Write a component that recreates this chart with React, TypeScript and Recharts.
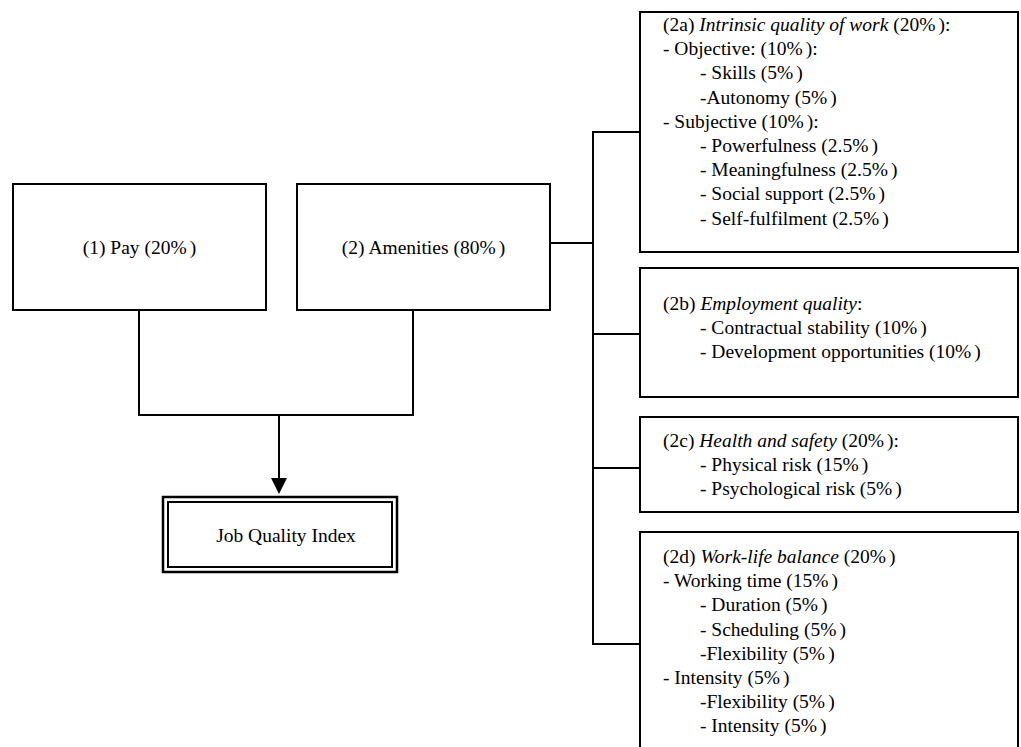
import { ComposedChart, ReferenceArea, ReferenceLine, Scatter, XAxis, YAxis } from 'recharts'

// labels and text of the diagram
const mainLabels = ['(1) Pay (20%)', '(2) Amenities (80%)']
const indexLabel = 'Job Quality Index'
// *...* = italic, leading \t = indented sub-item
const amenityGroups: string[][] = [
  [
    '(2a) *Intrinsic quality of work* (20%):',
    '- Objective: (10%):',
    '\t- Skills (5%)',
    '\t-Autonomy (5%)',
    '- Subjective (10%):',
    '\t- Powerfulness (2.5%)',
    '\t- Meaningfulness (2.5%)',
    '\t- Social support (2.5%)',
    '\t- Self-fulfilment (2.5%)',
  ],
  ['(2b) *Employment quality*:', '\t- Contractual stability (10%)', '\t- Development opportunities (10%)'],
  ['(2c) *Health and safety* (20%):', '\t- Physical risk (15%)', '\t- Psychological risk (5%)'],
  [
    '(2d) *Work-life balance* (20%)',
    '- Working time (15%)',
    '\t- Duration (5%)',
    '\t- Scheduling (5%)',
    '\t-Flexibility (5%)',
    '- Intensity (5%)',
    '\t-Flexibility (5%)',
    '\t- Intensity (5%)',
  ],
]

// layout, in the chart's own units (1 unit = 1px)
const W = 1021
const H = 747
const mainBoxes = [
  { x1: 13, x2: 266, y1: 184, y2: 310, stem: 139 },
  { x1: 297, x2: 550, y1: 184, y2: 310, stem: 413 },
]
const joinY = 415
const arrowX = 279
const indexBox = { x1: 163, x2: 397, y1: 497, y2: 572, gap: 5 }
const spineX = 593
const groupX1 = 640
const groupX2 = 1018
const textX = 663
const indentX = 700
const lineH = 24.2
const groupBoxes = [
  { y1: 12, y2: 252, first: 24, link: 132 },
  { y1: 268, y2: 397, first: 303, link: 334 },
  { y1: 417, y2: 512, first: 440, link: 468 },
  { y1: 532, y2: 770, first: 556, link: 644 },
]

const FONT = 'Liberation Serif'
const FS = 19.5

interface TextPoint {
  x: number
  y: number
  text: string
  anchor: 'start' | 'middle'
}

const textPoints: TextPoint[] = [
  ...mainLabels.map((t, i) => ({
    x: (mainBoxes[i].x1 + mainBoxes[i].x2) / 2,
    y: (mainBoxes[i].y1 + mainBoxes[i].y2) / 2,
    text: t,
    anchor: 'middle' as const,
  })),
  { x: (indexBox.x1 + indexBox.x2) / 2 + 6, y: (indexBox.y1 + indexBox.y2) / 2, text: indexLabel, anchor: 'middle' },
  ...amenityGroups.flatMap((lines, g) =>
    lines.map((t, i) => ({
      x: t.startsWith('\t') ? indentX : textX,
      y: groupBoxes[g].first + i * lineH,
      text: t.replace('\t', ''),
      anchor: 'start' as const,
    })),
  ),
]

// split into italic / upright runs, and leave the little gap the source has after each "%"
const TextShape = (props: any) => {
  const { cx, cy, payload } = props
  const runs = String(payload.text).split('*')
  const spans: { t: string; italic: boolean; dx: number }[] = []
  runs.forEach((r, i) => {
    r.split(/(?<=%)/).forEach((piece, k) => {
      if (piece) spans.push({ t: piece, italic: i % 2 === 1, dx: k > 0 ? 3 : 0 })
    })
  })
  return (
    <text
      x={cx}
      y={cy}
      textAnchor={payload.anchor}
      dominantBaseline="central"
      fontFamily={FONT}
      fontSize={FS}
      fill="#000"
    >
      {spans.map((s, i) => (
        <tspan key={i} dx={s.dx || undefined} fontStyle={s.italic ? 'italic' : 'normal'}>
          {s.t}
        </tspan>
      ))}
    </text>
  )
}

const ArrowHead = (props: any) => {
  const { cx, cy } = props
  return <polygon points={`${cx - 8},${cy - 8} ${cx + 8},${cy - 8} ${cx},${cy + 8}`} fill="#000" />
}

const line = { stroke: '#000', strokeWidth: 2, ifOverflow: 'visible' as const }
const box = { fill: '#fff', fillOpacity: 1, stroke: '#000', strokeWidth: 2, ifOverflow: 'hidden' as const }

export default function App() {
  return (
    <div style={{ position: 'absolute', left: 0, top: 0, background: '#fff' }}>
      <ComposedChart width={W} height={H} margin={{ top: 0, right: 0, bottom: 0, left: 0 }}>
        <XAxis type="number" dataKey="x" domain={[0, W]} hide allowDataOverflow />
        <YAxis type="number" dataKey="y" domain={[0, H]} reversed hide allowDataOverflow />

        {/* connectors */}
        {mainBoxes.map((b, i) => (
          <ReferenceLine key={`stem${i}`} segment={[{ x: b.stem, y: b.y2 }, { x: b.stem, y: joinY }]} {...line} />
        ))}
        <ReferenceLine segment={[{ x: mainBoxes[0].stem - 1, y: joinY }, { x: mainBoxes[1].stem + 1, y: joinY }]} {...line} />
        <ReferenceLine segment={[{ x: arrowX, y: joinY }, { x: arrowX, y: 484 }]} {...line} />
        <ReferenceLine segment={[{ x: mainBoxes[1].x2, y: 243 }, { x: spineX, y: 243 }]} {...line} />
        <ReferenceLine
          segment={[{ x: spineX, y: groupBoxes[0].link - 1 }, { x: spineX, y: groupBoxes[3].link + 1 }]}
          {...line}
        />
        {groupBoxes.map((g, i) => (
          <ReferenceLine key={`link${i}`} segment={[{ x: spineX, y: g.link }, { x: groupX1, y: g.link }]} {...line} />
        ))}

        {/* boxes */}
        {mainBoxes.map((b, i) => (
          <ReferenceArea key={`main${i}`} x1={b.x1} x2={b.x2} y1={b.y1} y2={b.y2} {...box} />
        ))}
        <ReferenceArea x1={indexBox.x1} x2={indexBox.x2} y1={indexBox.y1} y2={indexBox.y2} {...box} strokeWidth={2.5} />
        <ReferenceArea
          x1={indexBox.x1 + indexBox.gap}
          x2={indexBox.x2 - indexBox.gap}
          y1={indexBox.y1 + indexBox.gap}
          y2={indexBox.y2 - indexBox.gap}
          {...box}
        />
        {groupBoxes.map((g, i) => (
          <ReferenceArea key={`grp${i}`} x1={groupX1} x2={groupX2} y1={g.y1} y2={Math.min(g.y2, H + 10)} {...box} />
        ))}

        <Scatter data={[{ x: arrowX, y: 486 }]} dataKey="y" shape={ArrowHead} isAnimationActive={false} />
        <Scatter data={textPoints} dataKey="y" shape={TextShape} isAnimationActive={false} />
      </ComposedChart>
    </div>
  )
}
